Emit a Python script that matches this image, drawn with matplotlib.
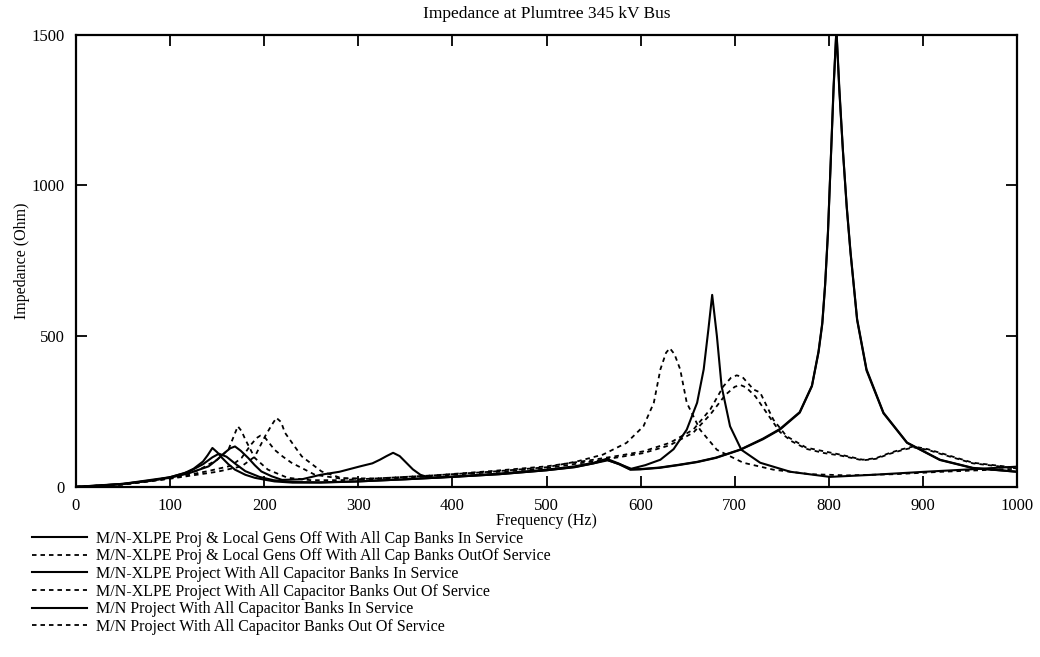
import matplotlib
matplotlib.use("Agg")
import matplotlib.pyplot as plt

# values (frequency in Hz, impedance in ohm)
labels = [
    "M/N-XLPE Proj & Local Gens Off With All Cap Banks In Service",
    "M/N-XLPE Proj & Local Gens Off With All Cap Banks OutOf Service",
    "M/N-XLPE Project With All Capacitor Banks In Service",
    "M/N-XLPE Project With All Capacitor Banks Out Of Service",
    "M/N Project With All Capacitor Banks In Service",
    "M/N Project With All Capacitor Banks Out Of Service",
]

f_gens_in = [0, 20, 50, 80, 100, 115, 125, 135, 140, 145, 150, 155, 162, 169, 180, 190, 200, 211,
             230, 260, 300, 350, 400, 450, 500, 530, 550, 565, 578, 590, 605, 621, 635, 649, 660,
             667, 672, 676, 681, 686, 695, 707, 727, 759, 801, 847, 902, 950, 1000]
z_gens_in = [0, 3, 10, 20, 32, 45, 60, 84, 105, 129, 115, 97, 75, 57, 40, 30, 24, 18,
             14, 14, 18, 25, 33, 42, 55, 65, 78, 88, 75, 60, 72, 90, 125, 190, 279,
             390, 523, 637, 501, 334, 201, 123, 80, 50, 33, 40, 50, 58, 67]

f_gens_out = [0, 50, 100, 130, 150, 162, 168, 172, 176, 180, 190, 204, 225, 250, 280, 320, 380,
              440, 500, 532, 560, 585, 603, 614, 621, 627, 631, 636, 642, 649, 663, 681, 709,
              741, 780, 820, 870, 920, 1000]
z_gens_out = [0, 8, 28, 55, 90, 123, 170, 201, 185, 157, 96, 57, 30, 22, 22, 28, 38,
              50, 65, 84, 107, 146, 201, 279, 390, 445, 460, 440, 390, 279, 190, 123, 80,
              57, 42, 38, 42, 50, 60]

f_xlpe_in = [0, 50, 100, 120, 135, 145, 152, 160, 170, 180, 195, 210, 230, 260, 300, 350, 400,
             450, 500, 530, 550, 564, 577, 589, 600, 620, 640, 660, 680, 706, 730, 748, 769,
             782, 789, 793, 796, 799, 801, 803, 805, 808, 811, 813, 815, 819, 823, 830, 840,
             858, 883, 918, 953, 1000]
z_xlpe_in = [0, 10, 32, 50, 75, 98, 110, 100, 75, 52, 33, 22, 16, 15, 18, 25, 33,
             42, 55, 66, 78, 90, 75, 57, 58, 63, 72, 82, 96, 123, 158, 190, 246,
             334, 446, 540, 668, 840, 1001, 1160, 1320, 1520, 1330, 1220, 1113, 930, 780, 557, 390,
             246, 147, 90, 63, 50]

f_xlpe_out = [0, 50, 100, 140, 165, 176, 186, 192, 196, 201, 211, 220, 229, 254, 280, 320, 380,
              440, 500, 550, 580, 603, 631, 656, 674, 688, 696, 702, 708, 720, 727, 741, 755,
              776, 812, 836, 850, 865, 878, 890, 905, 918, 953, 1000]
z_xlpe_out = [0, 8, 28, 52, 70, 96, 140, 162, 170, 163, 123, 100, 80, 40, 28, 28, 38,
              52, 68, 90, 105, 118, 146, 190, 257, 334, 362, 370, 365, 323, 313, 223, 168,
              130, 107, 90, 95, 113, 125, 134, 125, 113, 80, 63]

f_mn_in = [0, 50, 100, 120, 141, 150, 158, 164, 169, 175, 183, 190, 197, 208, 219, 240, 260,
           280, 302, 315, 323, 330, 337, 344, 351, 358, 366, 376, 400, 450, 500, 530, 550,
           564, 577, 589, 600, 620, 640, 660, 680, 706, 730, 748, 769, 782, 789, 793, 796,
           799, 801, 803, 805, 808, 811, 813, 815, 819, 823, 830, 840, 858, 883, 918, 953, 1000]
z_mn_in = [0, 9, 30, 45, 68, 90, 113, 128, 134, 120, 96, 72, 51, 35, 23, 25, 40,
           50, 68, 78, 90, 102, 113, 102, 80, 58, 40, 30, 34, 44, 57, 68, 80,
           93, 77, 58, 59, 64, 73, 83, 97, 124, 160, 192, 248, 336, 450, 545, 672,
           845, 1005, 1165, 1330, 1515, 1320, 1215, 1110, 925, 776, 553, 386, 244, 146, 89, 62, 50]

f_mn_out = [0, 50, 100, 150, 176, 190, 201, 208, 213, 218, 222, 231, 240, 261, 282, 310, 350,
            400, 450, 500, 550, 580, 603, 631, 656, 674, 690, 700, 706, 712, 722, 734, 748,
            760, 776, 795, 812, 836, 850, 865, 878, 890, 905, 918, 953, 1000]
z_mn_out = [0, 8, 27, 50, 68, 100, 168, 205, 229, 215, 180, 140, 101, 51, 29, 25, 30,
            40, 50, 62, 85, 100, 112, 138, 180, 240, 305, 332, 338, 330, 300, 245, 182,
            152, 126, 112, 104, 88, 93, 110, 122, 131, 123, 110, 78, 61]

series = [(f_gens_in, z_gens_in), (f_gens_out, z_gens_out),
          (f_xlpe_in, z_xlpe_in), (f_xlpe_out, z_xlpe_out),
          (f_mn_in, z_mn_in), (f_mn_out, z_mn_out)]

plt.rcParams['font.family'] = ['Liberation Serif', 'DejaVu Serif']

fig = plt.figure(figsize=(10.4, 6.57), dpi=100)
ax = fig.add_axes([0.073, 0.259, 0.905, 0.688])

for i, (f, z) in enumerate(series):
    if i % 2 == 0:
        ax.plot(f, z, color='black', lw=1.5, ls='-', label=labels[i])
    else:
        ax.plot(f, z, color='black', lw=1.3, ls=(0, (2.5, 2.2)), label=labels[i])

ax.set_xlim(0, 1000)
ax.set_ylim(0, 1500)
ax.set_xticks(range(0, 1001, 100))
ax.set_yticks([0, 500, 1000, 1500])
ax.tick_params(direction='in', length=8, width=1.3, top=True, right=True,
               labelsize=12, pad=8)
for s in ax.spines.values():
    s.set_linewidth(1.6)

ax.set_title("Impedance at Plumtree 345 kV Bus", fontsize=12.5, pad=12)
ax.set_xlabel("Frequency (Hz)", fontsize=11.5, labelpad=-1)
ax.set_ylabel("Impedance (Ohm)", fontsize=11.5, labelpad=1)

ax.legend(loc='upper left', bbox_to_anchor=(0.031, 0.192), bbox_transform=fig.transFigure,
          frameon=False, fontsize=11.5, handlelength=3.4, handletextpad=0.6,
          labelspacing=0.1, borderaxespad=0, borderpad=0)

plt.savefig('out.png', dpi=100)
